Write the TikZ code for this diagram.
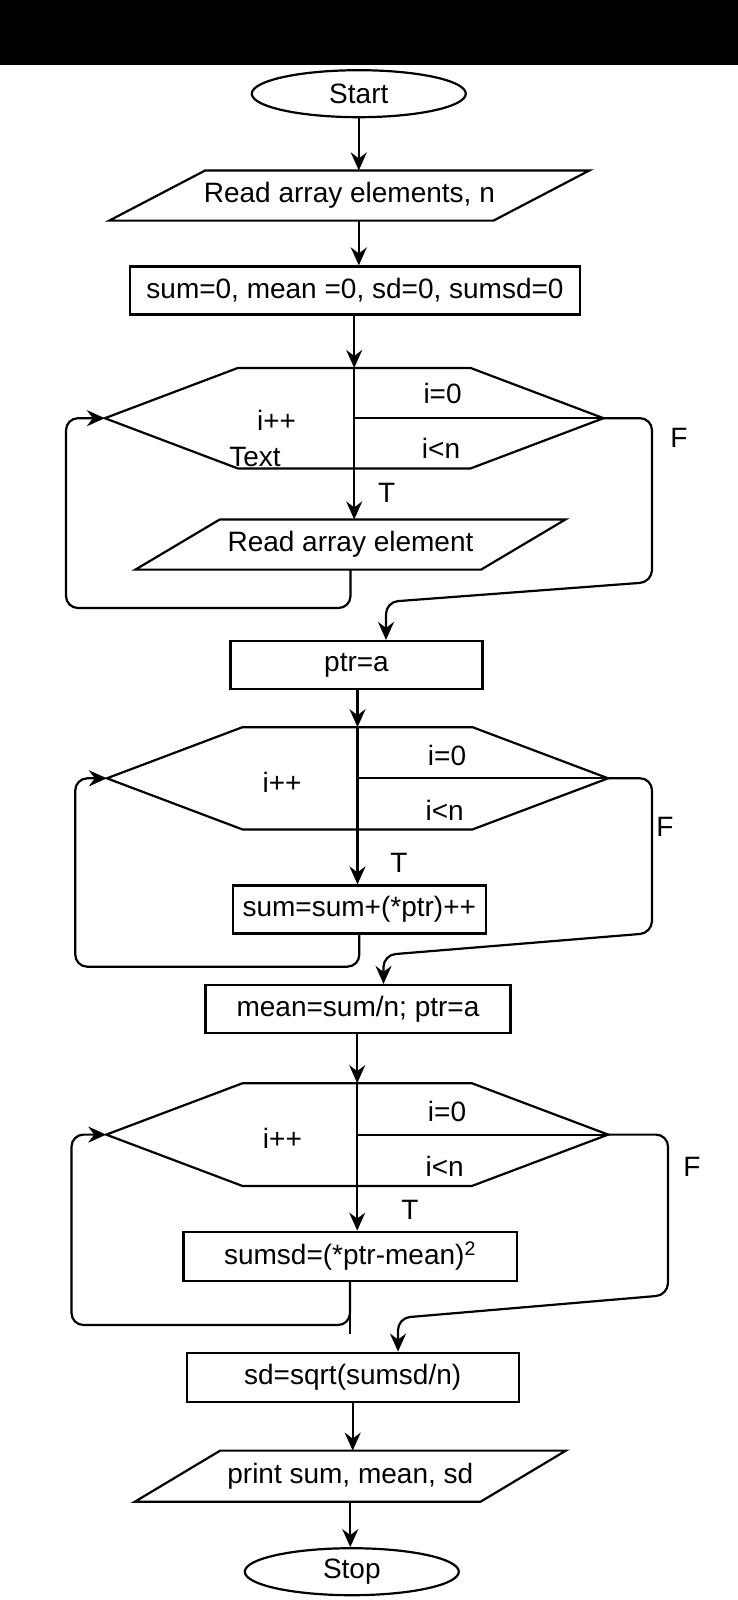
\documentclass[tikz,border=0pt]{standalone}
\usepackage{fontspec}
\setmainfont{Liberation Sans}
\usetikzlibrary{shapes.geometric,arrows.meta,calc}

\begin{document}
\begin{tikzpicture}[x=1pt, y=-1pt, line width=2.2pt,
	font=\fontsize{28}{33}\selectfont,
	arr/.style={-{Stealth[length=18pt, width=16pt, inset=6pt]}},
	term/.style={draw, ellipse, minimum width=214pt, minimum height=47pt, inner sep=0pt},
	box/.style={draw, rectangle, minimum height=48pt, inner sep=0pt},
	blank/.style={rectangle, minimum height=48pt, inner sep=0pt},
	lbl/.style={inner sep=0pt}]
	\useasboundingbox (0,0) rectangle (738,1600);
	\fill[black] (0,0) rectangle (738,65);

	%Start, input, init
	\node[term] (start) at (358.8,93.7) {Start};
	\node[blank, minimum width=382pt] (rd1) at (349.4,195.5) {Read array elements, n};
	\def\dx{48}
	\draw ($(rd1.south west)+(-\dx,0)$) -- ($(rd1.north west)+(\dx,0)$) -- ($(rd1.north east)+(\dx,0)$) -- ($(rd1.south east)+(-\dx,0)$) -- cycle;
	\node[box, minimum width=450pt] (init) at (355,290.5) {sum=0, mean =0, sd=0, sumsd=0};
	\draw[arr] (start.south) -- (start.south |- rd1.north);
	\draw[arr] (rd1.south -| start) -- (init.north -| start);

	%Loop 1
	\node[blank, minimum width=496.5pt, minimum height=98.3pt] (h1) at (354.2,418.2) {};
	\def\cut{133}
	\draw (h1.west) -- ($(h1.north west)+(\cut,0)$) -- ($(h1.north east)+(-\cut,0)$) -- (h1.east) -- ($(h1.south east)+(-\cut,0)$) -- ($(h1.south west)+(\cut,0)$) -- cycle;
	\draw (h1.north) -- (h1.south);
	\draw (h1.center) -- (h1.east);
	\node[lbl] (h1a) at (442.6,393) {i=0};
	\node[lbl] (h1b) at (441,448) {i<n};
	\node[lbl] (h1c) at (276.5,420) {i++};
	\node[lbl] (h1d) at (255,456.7) {Text};
	\node[blank, minimum width=343.5pt] (rd2) at (350.5,544.5) {Read array element};
	\def\dx{42.25}
	\draw ($(rd2.south west)+(-\dx,0)$) -- ($(rd2.north west)+(\dx,0)$) -- ($(rd2.north east)+(\dx,0)$) -- ($(rd2.south east)+(-\dx,0)$) -- cycle;
	\node[box, minimum width=252pt] (ptr) at (356.5,665) {ptr=a};
	\draw[arr] (init.south -| h1) -- (h1.north);
	\draw[arr] (h1.south) -- (h1.south |- rd2.north);
	\node[lbl] (t1) at (386.7,492.7) {T};
	\coordinate (b1) at (66,608);
	\draw[arr, rounded corners=12pt] (rd2.south) |- (b1) |- (h1.west);
	\coordinate (f1) at (652,582);
	\coordinate (g1) at (386,602);
	\draw[arr, rounded corners=12pt] (h1.east) -| (f1) -- (g1) -- (g1 |- ptr.north);
	\node[lbl] (fl1) at (679,438) {F};

	%Loop 2
	\node[blank, minimum width=499pt, minimum height=100pt] (h2) at (357.5,778.3) {};
	\def\cut{135.5}
	\draw (h2.west) -- ($(h2.north west)+(\cut,0)$) -- ($(h2.north east)+(-\cut,0)$) -- (h2.east) -- ($(h2.south east)+(-\cut,0)$) -- ($(h2.south west)+(\cut,0)$) -- cycle;
	\draw (h2.north) -- (h2.south);
	\draw (h2.center) -- (h2.east);
	\node[lbl] (h2a) at (447,755) {i=0};
	\node[lbl] (h2b) at (444.7,810) {i<n};
	\node[lbl] (h2c) at (282,782.7) {i++};
	\node[box, minimum width=252.6pt] (sum) at (359.3,909.5) {sum=sum+(*ptr)++};
	\node[box, minimum width=305pt] (mean) at (358,1009) {mean=sum/n; ptr=a};
	\draw[arr] (ptr.south -| h2) -- (h2.north);
	\draw[arr] (h2.south) -- (h2.south |- sum.north);
	\node[lbl] (t2) at (399,862.7) {T};
	\coordinate (b2) at (75.3,966.7);
	\draw[arr, rounded corners=12pt] (sum.south) |- (b2) |- (h2.west);
	\coordinate (f2) at (652,933);
	\coordinate (g2) at (383.5,955);
	\draw[arr, rounded corners=12pt] (h2.east) -| (f2) -- (g2) -- (g2 |- mean.north);
	\node[lbl] (fl2) at (665,826.7) {F};

	%Loop 3
	\node[blank, minimum width=499.7pt, minimum height=100.7pt] (h3) at (357.2,1134.6) {};
	\def\cut{136.5}
	\draw (h3.west) -- ($(h3.north west)+(\cut,0)$) -- ($(h3.north east)+(-\cut,0)$) -- (h3.east) -- ($(h3.south east)+(-\cut,0)$) -- ($(h3.south west)+(\cut,0)$) -- cycle;
	\draw (h3.north) -- (h3.south);
	\draw (h3.center) -- (h3.east);
	\node[lbl] (h3a) at (447,1111.7) {i=0};
	\node[lbl] (h3b) at (444.7,1166) {i<n};
	\node[lbl] (h3c) at (282.4,1138.3) {i++};
	\node[box, minimum width=333.2pt, minimum height=49pt] (sumsd) at (350,1256.2) {sumsd=(*ptr-mean)\textsuperscript{2}};
	\node[box, minimum width=331.8pt, minimum height=49pt] (sd) at (352.7,1377.2) {sd=sqrt(sumsd/n)};
	\draw[arr] (mean.south -| h3) -- (h3.north);
	\draw[arr] (h3.south) -- (h3.south |- sumsd.north);
	\node[lbl] (t3) at (410,1210) {T};
	\coordinate (b3) at (71.5,1325);
	\coordinate (e3) at (350,1334);
	\draw (sumsd.south) -- (sumsd.south |- e3);
	\draw[arr, rounded corners=12pt] (sumsd.south) |- (b3) |- (h3.west);
	\coordinate (f3) at (668,1295);
	\coordinate (g3) at (398,1318);
	\draw[arr, rounded corners=12pt] (h3.east) -| (f3) -- (g3) -- (g3 |- sd.north);
	\node[lbl] (fl3) at (691.8,1166.7) {F};

	%Output and stop
	\node[blank, minimum width=343.5pt, minimum height=49pt] (pr) at (350.3,1476.2) {print sum, mean, sd};
	\def\dx{42.75}
	\draw ($(pr.south west)+(-\dx,0)$) -- ($(pr.north west)+(\dx,0)$) -- ($(pr.north east)+(\dx,0)$) -- ($(pr.south east)+(-\dx,0)$) -- cycle;
	\node[term] (stop) at (351.8,1571.7) {Stop};
	\draw[arr] (sd.south) -- (sd.south |- pr.north);
	\draw[arr] (pr.south) -- (pr.south |- stop.north);
\end{tikzpicture}
\end{document}
